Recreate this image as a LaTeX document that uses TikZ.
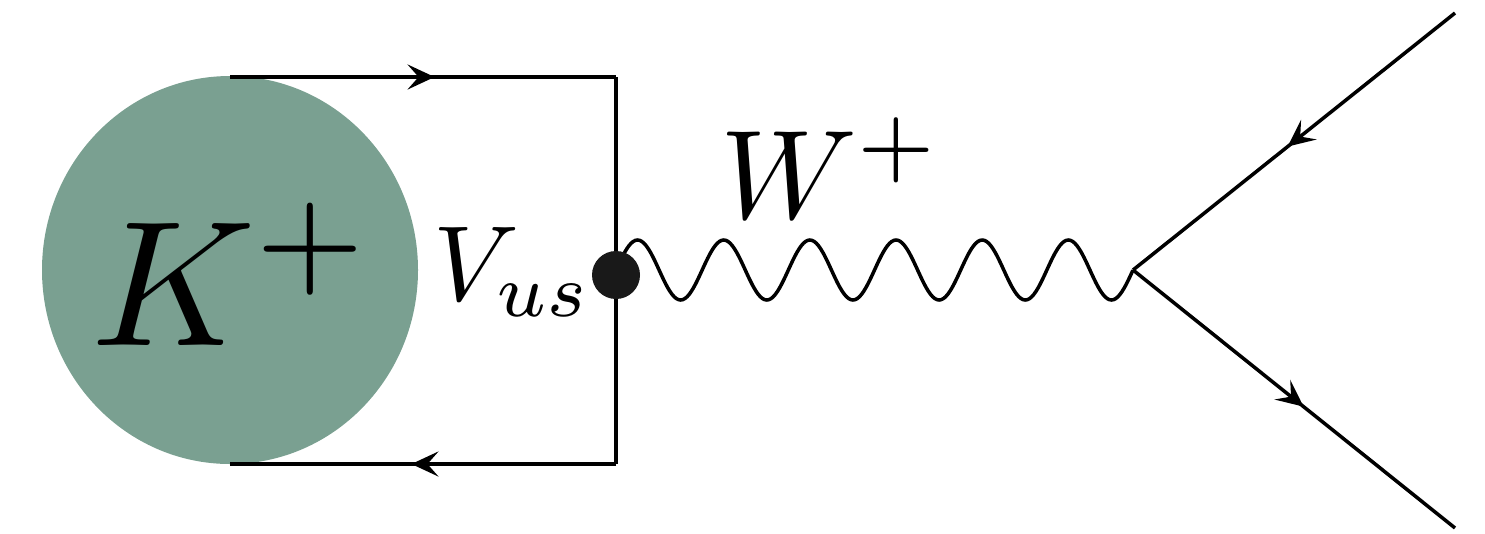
\documentclass[tikz,border=0pt]{standalone}
\usepackage{amsmath}
\usepackage{graphicx}
\usepackage{xcolor}
\usepackage{tikz}
\usetikzlibrary{arrows.meta, decorations.markings, calc}
\definecolor{kaongreen}{RGB}{122,160,145}

\begin{document}
\begin{tikzpicture}[
    line width=1pt,
    fermion/.style={postaction={decorate}, decoration={markings,
      mark=at position #1 with {\arrow{Stealth[length=2.7mm, width=2.5mm, inset=1.1mm]}}}},
    fermion/.default=0.53,
    vertexdot/.style={circle, fill=black!90, inner sep=0pt, minimum size=4.8mm}
  ]
  \useasboundingbox (0,0) rectangle (14.85,5.33);
  % meson blob
  \fill[kaongreen] (2.30,2.63) ellipse [x radius=1.88, y radius=1.94];
  \node[anchor=base] (kaon) at (2.33,1.88) {\scalebox{5.08}{$K^+$}};
  % quark loop
  \coordinate (qtop) at (2.30,4.56);
  \coordinate (ctop) at (6.16,4.56);
  \coordinate (cbot) at (6.16,0.69);
  \coordinate (qbot) at (2.30,0.69);
  \draw[fermion] (qtop) -- (ctop);
  \draw (ctop) -- (cbot);
  \draw[fermion] (cbot) -- (qbot);
  % W line (six periods) and leptons
  \coordinate (wstart) at (6.16,2.63);
  \coordinate (vtx) at (11.33,2.63);
  \coordinate (ltop) at (14.55,5.20);
  \coordinate (lbot) at (14.55,0.05);
  \draw let \p1=(wstart), \p2=(vtx) in
    plot[variable=\t, domain=0:1, samples=241, smooth]
    ({\x1+\t*(\x2-\x1)}, {\y1+3mm*sin(\t*6*360)});
  \draw[fermion=0.52] (ltop) -- (vtx);
  \draw[fermion] (vtx) -- (lbot);
  \node[vertexdot] (vus) at (6.16,2.58) {};
  % labels
  \node[anchor=base] (vuslabel) at (5.13,2.33) {\scalebox{3.04}{$V_{us}$}};
  \node[anchor=base] (wlabel) at (8.31,3.15) {\scalebox{3.6}{$W^+$}};
\end{tikzpicture}
\end{document}
